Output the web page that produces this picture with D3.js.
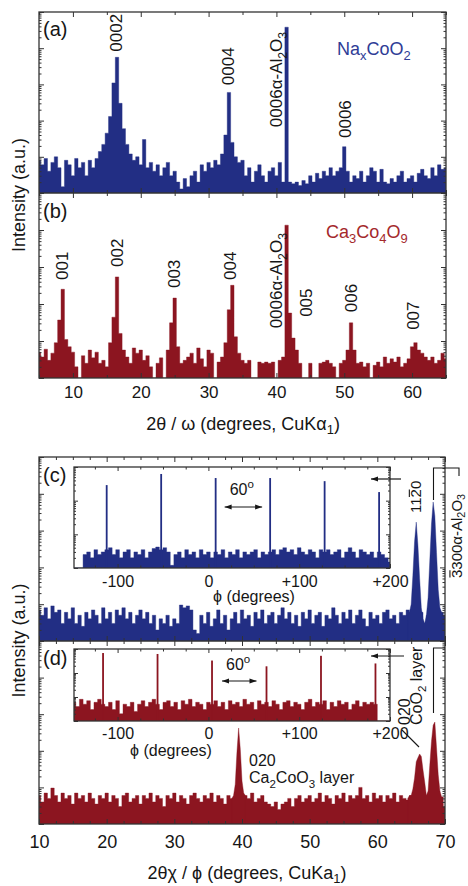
<!DOCTYPE html>
<html>
<head>
<meta charset="utf-8">
<script src="https://cdn.jsdelivr.net/npm/d3@7/dist/d3.min.js"></script>
<style>
  html, body { margin: 0; padding: 0; background: #fff; }
  svg { display: block; font-family: "Liberation Sans", Arial, Helvetica, sans-serif; }
</style>
</head>
<body>
<svg id="fig" width="468" height="886"></svg>
<script>
// ---------------- data ----------------
// Out-of-plane 2θ/ω scans, 5°–65°, sampled every 0.5°
const twoThetaOutStart = 5, twoThetaOutEnd = 65, twoThetaStep = 0.5;
const naxcoo2Counts = [
  8, 6, 9, 4, 7, 10, 5, 1.5, 8, 6,
  3, 9, 5, 7, 3, 8, 5, 9, 14, 22,
  45, 130, 1100, 5600, 300, 60, 22, 12, 8, 10,
  6, 30, 5, 7, 4, 6, 3, 5, 7, 3,
  4, 2, 1.3, 2.5, 1.5, 3, 4, 2, 6, 4,
  7, 5, 8, 6, 12, 40, 600, 25, 10, 7,
  8, 3, 5, 2, 4, 6, 3, 2, 4, 5,
  3, 7, 2, 38000, 2, 1.8, 2, 1.6, 2.2, 1.8,
  3, 2, 3.5, 2.5, 4, 3, 5, 3, 4, 5,
  19, 4, 2, 3, 2.5, 4, 2, 3, 5, 4,
  2, 4.5, 2, 1.8, 2.5, 2, 3, 4, 2, 2.5,
  3, 2, 3.5, 4.5, 3, 2.5, 5, 3, 6, 4.5,
  5
];
const ca3co4o9Counts = [
  5, 3.7, 6, 3, 4.7, 9, 37, 250, 11, 7,
  5, 2, 1, 4, 2.5, 5.7, 3.5, 5, 2.5, 3,
  2, 9, 44, 540, 16, 5.7, 3.7, 2.5, 6.5, 4.7,
  5.7, 3, 4, 2, 1, 2.5, 3.5, 1, 5.7, 31,
  145, 7, 2.5, 3, 3.7, 4.7, 2.5, 6.5, 3.3, 2,
  5.7, 4.7, 1, 2.7, 3.7, 9, 70, 320, 13, 4.7,
  3, 2.5, 3, 1, 1, 2.7, 2.5, 2.7, 2.5, 2.7,
  1, 3, 3.7, 13500, 57, 12, 5.7, 2.5, 1, 1,
  2.5, 1, 1, 2.5, 2.7, 3, 2.5, 2, 1, 2.5,
  3, 5.7, 31, 5.7, 2.5, 2.7, 2, 2.5, 1, 2.2,
  2.7, 2, 3.7, 2.5, 3.3, 2.7, 3.7, 2, 2.5, 3.3,
  7, 9, 5.7, 4.7, 3.7, 3, 3.7, 2.5, 3, 4.7,
  3.3
];

// In-plane 2θχ/φ scans, 10°–70°: background every 0.5°
const twoThetaInStart = 10, twoThetaInEnd = 70;
const naxcoo2InPlane = [
  7, 5, 8, 4, 9, 6, 7, 3, 6, 4,
  8, 3, 5, 2.5, 6, 4, 7, 5, 3, 8,
  4, 6, 3, 7, 5, 8, 4, 6, 3, 5,
  7, 4, 6, 3, 5, 2, 4, 3, 5, 2.5,
  4, 3, 9.5, 8, 9, 7, 2, 1.6, 5, 3,
  6, 2.5, 4, 7, 3, 5, 2, 4, 6, 3,
  7, 4, 5, 2.5, 6, 4, 7, 3, 5, 6,
  3, 5, 8, 4, 6, 3, 5, 2.5, 6, 4,
  7, 3, 5, 6, 2.5, 5, 4, 8, 5, 3,
  6, 4, 7, 3, 5, 7, 4, 2.5, 6, 4,
  5, 3, 6, 7, 4, 5, 3, 6, 5, 7,
  6, 5, 4, 6, 3, 5, 4, 6, 5, 6,
  5
];
const ca3co4o9InPlane = [
  6, 4, 7, 5, 9.6, 6, 4, 7, 5, 6,
  3.5, 7, 5, 6, 4, 7, 5, 3.5, 6, 5,
  7, 4, 6, 5, 3, 6, 7, 4, 5, 6,
  3.5, 6, 5, 7, 4, 6, 5, 3, 6, 5,
  7, 4, 6, 5, 3.5, 6, 7, 5, 4, 6,
  5, 7, 4, 6, 5, 3.5, 6, 5, 5, 6,
  5, 6, 5, 7, 4, 5, 6, 4, 3.5, 3,
  4, 2.5, 3.5, 4, 5, 3, 5, 6, 4, 5,
  6, 4, 5, 7, 4, 6, 5, 3.5, 6, 5,
  7, 4, 6, 5, 6, 10, 5, 6, 4, 7,
  5, 6, 4, 6, 5, 7, 4, 6, 5, 4.5,
  6, 5, 7, 4, 6, 5, 7, 4, 6, 5.5,
  3
];
// In-plane reflections, finer 0.25° sampling
const peakStepIn = 0.25;
const naxcoo2ReflStart = 64.5;   // 11-20 and 3-300 α-Al2O3
const naxcoo2Refl = [5, 6, 10, 60, 500, 1700, 400, 50, 8, 4, 3, 5, 15, 150, 1500, 6000, 2500, 250, 25, 8, 6];
const ca2coo3ReflStart = 38.5;   // 020 of the Ca2CoO3 layer
const ca2coo3Refl = [5, 6, 12, 90, 420, 110, 15, 7, 6];
const coo2ReflStart = 64.5;      // 020 of the CoO2 layer and 3-300 α-Al2O3
const coo2Refl = [5, 6, 6, 9, 18, 50, 65, 82, 70, 30, 14, 6, 8, 40, 180, 500, 610, 120, 22, 8, 5.5];

// φ scans, −148° to +200°, background every 4°, plus the six reflections
const phiStart = -148, phiEnd = 200, phiStep = 4;
const phiNoiseNa = [
  1, 1, 1, 2.5, 3, 2, 3.5, 2.5, 3, 3.5,
  4, 2.5, 3.5, 2, 3, 3.5, 2, 3, 2.5, 3.5,
  2, 3, 3.8, 4.2, 3.5, 4, 3, 1.2, 2.5, 3,
  2, 3.5, 2.5, 3, 2, 3.5, 2.5, 3, 2, 3,
  2.5, 3.5, 2, 3, 2.5, 3.5, 2, 3, 2.5, 3,
  3.5, 2, 3, 2.5, 3, 3.5, 2.5, 3.5, 4, 3,
  3.5, 2.5, 4, 3, 2.5, 3.5, 3, 2, 3.5, 3,
  3.5, 2.5, 3, 3.5, 2, 3, 4, 3, 2, 3.5,
  3, 2.5, 3, 2, 3, 2.5, 2, 1.5
];
const phiNoiseCa = [
  6, 4, 8, 5, 7, 3, 6, 8, 5, 4,
  6, 3, 7, 2, 5, 4, 6, 2.5, 5, 7,
  4, 6, 8, 5, 3, 6, 7, 4, 6, 3,
  7, 5, 8, 4, 6, 5, 3, 6, 5, 7,
  4, 6, 3, 7, 5, 6, 4, 8, 5, 6,
  3, 7, 5, 6, 4, 7, 5, 3, 6, 7,
  4, 6, 5, 3, 6, 8, 4, 6, 5, 7,
  3, 6, 4, 7, 5, 6, 3, 5, 7, 4,
  6, 5, 6, 5, 1, 1, 1, 1
];
const phiPeaksNa = [-112, -52, 8, 68, 128, 188];
const phiPeakCountsNa = [290, 620, 470, 470, 380, 180];
const phiPeaksCa = [-116, -56, 4, 64, 124, 184];
const phiPeakCountsCa = [680, 620, 330, 190, 520, 250];

const countDomainMain = [1, 1e5];
const countDomainPhi = [1, 1000];
const tickLabelsOut = [10, 20, 30, 40, 50, 60];
const tickLabelsIn = [10, 20, 30, 40, 50, 60, 70];
const tickLabelsPhi = [-100, 0, 100, 200];

// ---------------- styling / layout ----------------
const blue = "#222e84", blueText = "#2f3c96";
const red = "#8c1520", redText = "#a4292c";
const ink = "#161616", frameCol = "#333";

const svg = d3.select("#fig");
const defs = svg.append("defs");

const topFig = { left: 39, right: 446, top: 12, mid: 193, bottom: 378 };
const botFig = { left: 39, right: 445, top: 457, mid: 641, bottom: 824 };
const insetC = { left: 74, right: 390, top: 467, bottom: 568 };
const insetD = { left: 74, right: 390, top: 649, bottom: 721 };

const xOut = d3.scaleLinear().domain([twoThetaOutStart, twoThetaOutEnd]).range([topFig.left, topFig.right]);
const yA = d3.scaleLog().domain(countDomainMain).range([topFig.mid, topFig.top]);
const yB = d3.scaleLog().domain(countDomainMain).range([topFig.bottom, topFig.mid]);
const xIn = d3.scaleLinear().domain([twoThetaInStart, twoThetaInEnd]).range([botFig.left, botFig.right]);
const yC = d3.scaleLog().domain(countDomainMain).range([botFig.mid, botFig.top]);
const yD = d3.scaleLog().domain(countDomainMain).range([botFig.bottom, botFig.mid]);
const xPhiC = d3.scaleLinear().domain([phiStart, phiEnd]).range([insetC.left, insetC.right]);
const xPhiD = d3.scaleLinear().domain([phiStart, phiEnd]).range([insetD.left, insetD.right]);
const yPhiC = d3.scaleLog().domain(countDomainPhi).range([insetC.bottom, insetC.top]);
const yPhiD = d3.scaleLog().domain(countDomainPhi).range([insetD.bottom, insetD.top]);

let clipId = 0;
function clipped(x0, y0, x1, y1) {
  const id = "clip" + (clipId++);
  defs.append("clipPath").attr("id", id).append("rect")
    .attr("x", x0).attr("y", y0).attr("width", x1 - x0).attr("height", y1 - y0);
  return svg.append("g").attr("clip-path", `url(#${id})`);
}

// filled spectrum from the panel floor up to the counts
function spectrum(g, counts, start, step, x, y, color, curve) {
  const floor = y.range()[0], lo = y.domain()[0];
  const area = d3.area()
    .x((d, i) => x(start + i * step))
    .y0(floor)
    .y1(d => y(Math.max(d, lo)))
    .curve(curve);
  g.append("path").attr("d", area(counts))
    .attr("fill", color).attr("stroke", color)
    .attr("stroke-width", 0.4).attr("stroke-linejoin", "round");
}

function sharpLines(g, pos, counts, x, y, color) {
  g.selectAll(null).data(pos).join("rect")
    .attr("x", d => x(d) - 0.9).attr("width", 1.8)
    .attr("y", (d, i) => y(counts[i]))
    .attr("height", (d, i) => y.range()[0] - y(counts[i]))
    .attr("fill", color);
}

// rich text: "_c" subscript, "^c" superscript, "~c" with a bar over it
function rich(group, markup, size, color, anchor, subShift) {
  const sub = subShift == null ? 0.3 : subShift;
  const t = group.append("text").attr("font-size", size)
    .attr("fill", color || ink).attr("text-anchor", anchor || "start");
  const segs = [];
  for (let i = 0; i < markup.length; i++) {
    const c = markup[i];
    if ((c === "_" || c === "^" || c === "~") && i + 1 < markup.length) {
      segs.push({ s: markup[i + 1], k: c }); i++;
    } else {
      const last = segs[segs.length - 1];
      if (last && last.k === "") last.s += c; else segs.push({ s: c, k: "" });
    }
  }
  let shift = 0, charIndex = 0;
  const barred = [];
  segs.forEach(seg => {
    const target = seg.k === "_" ? size * sub : seg.k === "^" ? -size * 0.42 : 0;
    const ts = t.append("tspan").text(seg.s);
    if (target - shift !== 0) ts.attr("dy", target - shift);
    if (seg.k === "_" || seg.k === "^") ts.attr("font-size", size * 0.72);
    if (seg.k === "~") barred.push(charIndex);
    charIndex += seg.s.length;
    shift = target;
  });
  barred.forEach(idx => {
    const ext = t.node().getExtentOfChar(idx);
    const yBar = ext.y + ext.height * 0.12;
    group.append("line")
      .attr("x1", ext.x + 0.5).attr("x2", ext.x + ext.width - 0.5)
      .attr("y1", yBar).attr("y2", yBar)
      .attr("stroke", color || ink).attr("stroke-width", 1.1);
  });
  return t;
}
function htext(x, y, markup, size, color, anchor, subShift) {
  const g = svg.append("g").attr("transform", `translate(${x},${y})`);
  return rich(g, markup, size, color, anchor, subShift);
}
// vertical text reading bottom-to-top; cx = glyph centre line, yStart = lower end
function vtext(cx, yStart, markup, size, color, anchor, subShift) {
  const g = svg.append("g").attr("transform", `translate(${cx + 0.36 * size},${yStart}) rotate(-90)`);
  return rich(g, markup, size, color, anchor, subShift);
}

function range(a, b, s) { return d3.range(a, b + s / 2, s); }
function logTicks(y) {
  const [a, b] = y.domain(), major = [], minor = [];
  for (let e = Math.floor(Math.log10(a)); e <= Math.ceil(Math.log10(b)); e++) {
    for (let m = 1; m < 10; m++) {
      const v = m * Math.pow(10, e);
      if (v < a - 1e-9 || v > b + 1e-9) continue;
      (m === 1 ? major : minor).push(v);
    }
  }
  return { major, minor };
}
function stripDomain(g) { g.select(".domain").remove(); g.attr("color", frameCol); g.selectAll("line").attr("stroke-width", 1); }

function xTickRow(axisFn, x, yPos, values, size) {
  svg.append("g").attr("transform", `translate(0,${yPos})`)
    .call(axisFn(x).tickValues(values).tickSize(size).tickFormat(""))
    .call(stripDomain);
}
function yTickCols(y, xl, xr, big, small) {
  const t = logTicks(y);
  [[d3.axisLeft, xl], [d3.axisRight, xr]].forEach(([fn, xp]) => {
    svg.append("g").attr("transform", `translate(${xp},0)`)
      .call(fn(y).tickValues(t.major).tickSize(-big).tickFormat("")).call(stripDomain);
    svg.append("g").attr("transform", `translate(${xp},0)`)
      .call(fn(y).tickValues(t.minor).tickSize(-small).tickFormat("")).call(stripDomain);
  });
}
function frameRect(f, top, bottom, fill) {
  svg.append("rect").attr("x", f.left).attr("y", top)
    .attr("width", f.right - f.left).attr("height", bottom - top)
    .attr("fill", fill || "none").attr("stroke", frameCol).attr("stroke-width", 1.3);
}
function arrowHead(x, y, dir, len, half, color) {
  svg.append("path")
    .attr("d", `M${x},${y}L${x - dir * len},${y - half}L${x - dir * len},${y + half}Z`)
    .attr("fill", color || ink);
}
function hArrow(x1, x2, y, both) {
  // head at x1; optional second head at x2
  svg.append("line").attr("x1", x1).attr("x2", x2).attr("y1", y).attr("y2", y)
    .attr("stroke", ink).attr("stroke-width", 1.2);
  arrowHead(x1, y, x1 < x2 ? -1 : 1, 7, 2.6);
  if (both) arrowHead(x2, y, x2 > x1 ? 1 : -1, 7, 2.6);
}

// ---------------- upper figure: 2θ/ω ----------------
spectrum(clipped(topFig.left, topFig.top, topFig.right, topFig.mid), naxcoo2Counts,
  twoThetaOutStart, twoThetaStep, xOut, yA, blue, d3.curveStep);
spectrum(clipped(topFig.left, topFig.mid, topFig.right, topFig.bottom), ca3co4o9Counts,
  twoThetaOutStart, twoThetaStep, xOut, yB, red, d3.curveStep);

frameRect(topFig, topFig.top, topFig.bottom);
svg.append("line").attr("x1", topFig.left).attr("x2", topFig.right)
  .attr("y1", topFig.mid).attr("y2", topFig.mid).attr("stroke", frameCol).attr("stroke-width", 1.3);

const outMinor = range(5, 65, 5).filter(v => v % 10 !== 0);
[[d3.axisTop, topFig.top], [d3.axisBottom, topFig.mid], [d3.axisTop, topFig.mid], [d3.axisBottom, topFig.bottom]]
  .forEach(([fn, yp]) => {
    xTickRow(fn, xOut, yp, tickLabelsOut, -5);
    xTickRow(fn, xOut, yp, outMinor, -3);
  });
yTickCols(yA, topFig.left, topFig.right, 5, 2.5);
yTickCols(yB, topFig.left, topFig.right, 5, 2.5);

svg.append("g").attr("transform", `translate(0,${topFig.bottom})`)
  .call(d3.axisBottom(xOut).tickValues(tickLabelsOut).tickSize(0).tickPadding(8).tickFormat(d => d))
  .call(g => { g.select(".domain").remove(); g.selectAll("line").remove(); })
  .call(g => g.selectAll("text").attr("font-size", 17).attr("font-family", null).attr("fill", ink));

htext((topFig.left + topFig.right) / 2 + 0.5, 430, "2θ / ω (degrees, CuKα_1)", 18, ink, "middle", 0.22);
vtext(19, (topFig.top + topFig.bottom) / 2, "Intensity (a.u.)", 18, ink, "middle");

htext(43, 36, "(a)", 20);
htext(43, 218, "(b)", 20);
htext(337, 55, "Na_xCoO_2", 18, blueText);
htext(326, 238, "Ca_3Co_4O_9", 18, redText);

// reflection labels, anchored at (2θ, counts) of their lower end
[["0002", 16.35, 8000], ["0004", 32.9, 950], ["0006α-Al_2O_3", 39.95, 66], ["0006", 50.15, 33]]
  .forEach(([s, tt, c]) => vtext(xOut(tt), yA(c), s, 17));
[["001", 8.4, 445], ["002", 16.5, 1000], ["003", 24.9, 270], ["004", 33.2, 445],
 ["0006α-Al_2O_3", 39.95, 22], ["005", 44.4, 45], ["006", 51.0, 60], ["007", 60.15, 20]]
  .forEach(([s, tt, c]) => vtext(xOut(tt), yB(c), s, 17));

// ---------------- lower figure: 2θχ/φ ----------------
const gC = clipped(botFig.left, botFig.top, botFig.right, botFig.mid);
spectrum(gC, naxcoo2InPlane, twoThetaInStart, twoThetaStep, xIn, yC, blue, d3.curveStep);
spectrum(gC, naxcoo2Refl, naxcoo2ReflStart, peakStepIn, xIn, yC, blue, d3.curveLinear);
const gD = clipped(botFig.left, botFig.mid, botFig.right, botFig.bottom);
spectrum(gD, ca3co4o9InPlane, twoThetaInStart, twoThetaStep, xIn, yD, red, d3.curveStep);
spectrum(gD, ca2coo3Refl, ca2coo3ReflStart, peakStepIn, xIn, yD, red, d3.curveLinear);
spectrum(gD, coo2Refl, coo2ReflStart, peakStepIn, xIn, yD, red, d3.curveLinear);

frameRect(botFig, botFig.top, botFig.bottom);
svg.append("line").attr("x1", botFig.left).attr("x2", botFig.right)
  .attr("y1", botFig.mid).attr("y2", botFig.mid).attr("stroke", frameCol).attr("stroke-width", 1.3);

const inMinor = range(10, 70, 2.5).filter(v => v % 10 !== 0);
[[d3.axisTop, botFig.top], [d3.axisBottom, botFig.mid], [d3.axisTop, botFig.mid], [d3.axisBottom, botFig.bottom]]
  .forEach(([fn, yp]) => {
    xTickRow(fn, xIn, yp, tickLabelsIn, -5);
    xTickRow(fn, xIn, yp, inMinor, -3);
  });
yTickCols(yC, botFig.left, botFig.right, 5, 2.5);
yTickCols(yD, botFig.left, botFig.right, 5, 2.5);

svg.append("g").attr("transform", `translate(0,${botFig.bottom})`)
  .call(d3.axisBottom(xIn).tickValues(tickLabelsIn).tickSize(0).tickPadding(11).tickFormat(d => d))
  .call(g => { g.select(".domain").remove(); g.selectAll("line").remove(); })
  .call(g => g.selectAll("text").attr("font-size", 18).attr("font-family", null).attr("fill", ink));

htext(247, 879, "2θχ / ϕ (degrees, CuKa_1)", 18, ink, "middle", 0.22);
vtext(19, (botFig.top + botFig.bottom) / 2, "Intensity (a.u.)", 18, ink, "middle");

// φ-scan insets
function inset(box, xPhi, yPhi, noise, peaks, peakCounts, color, labelPad, titleX, titleY) {
  svg.append("rect").attr("x", box.left).attr("y", box.top)
    .attr("width", box.right - box.left).attr("height", box.bottom - box.top).attr("fill", "#fff");
  const g = clipped(box.left, box.top, box.right, box.bottom);
  spectrum(g, noise, phiStart, phiStep, xPhi, yPhi, color, d3.curveStep);
  sharpLines(g, peaks, peakCounts, xPhi, yPhi, color);
  frameRect(box, box.top, box.bottom);
  const phiMinor = range(-125, 200, 25).filter(v => v % 100 !== 0);
  xTickRow(d3.axisBottom, xPhi, box.bottom, tickLabelsPhi, -4);
  xTickRow(d3.axisBottom, xPhi, box.bottom, phiMinor, -2.5);
  xTickRow(d3.axisTop, xPhi, box.top, tickLabelsPhi, -4);
  xTickRow(d3.axisTop, xPhi, box.top, phiMinor, -2.5);
  yTickCols(yPhi, box.left, box.right, 4, 2);
  svg.append("g").attr("transform", `translate(0,${box.bottom})`)
    .call(d3.axisBottom(xPhi).tickValues(tickLabelsPhi).tickSize(0).tickPadding(labelPad)
      .tickFormat(d => d > 0 ? "+" + d : String(d)))
    .call(g2 => { g2.select(".domain").remove(); g2.selectAll("line").remove(); })
    .call(g2 => g2.selectAll("text").attr("font-size", 16).attr("font-family", null).attr("fill", ink));
  htext(titleX, titleY, "ϕ (degrees)", 16, ink, "middle");
}
inset(insetC, xPhiC, yPhiC, phiNoiseNa, phiPeaksNa, phiPeakCountsNa, blue, 7.6, 254, 602);
inset(insetD, xPhiD, yPhiD, phiNoiseCa, phiPeaksCa, phiPeakCountsCa, red, 6.6, 171, 756);

// 60° spacing markers between neighbouring φ reflections
htext(xPhiC(phiPeaksNa[2]) + 14, 495, "60^o", 16);
hArrow(xPhiC(phiPeaksNa[2]) + 9, xPhiC(phiPeaksNa[3]) - 8, 507, true);
htext(xPhiD(phiPeaksCa[2]) + 14, 670, "60^o", 16);
hArrow(xPhiD(phiPeaksCa[2]) + 10, xPhiD(phiPeaksCa[3]) - 10, 681, true);

// arrows tying each φ scan to its in-plane reflection
hArrow(371, 401, 479, false);
hArrow(371, 404, 656, false);

htext(43, 482, "(c)", 20);
htext(43, 665, "(d)", 20);

// (c) reflection labels
vtext(xIn(65.7), 513, "11~20", 15);
const brX = xIn(68.3);
svg.append("path").attr("d", `M${brX},500V468H459V476`)
  .attr("fill", "none").attr("stroke", ink).attr("stroke-width", 1.1);
vtext(456.5, 578, "~3300α-Al_2O_3", 15, ink, "start", 0.2);

// (d) reflection labels
vtext(404, 725, "020", 16);
vtext(416.5, 725, "CoO_2 layer", 16, ink, "start", 0.22);
svg.append("line").attr("x1", 402).attr("y1", 730).attr("x2", 419).attr("y2", 747)
  .attr("stroke", ink).attr("stroke-width", 1.1);
svg.append("path").attr("d", `M${brX},713V648H445`)
  .attr("fill", "none").attr("stroke", ink).attr("stroke-width", 1.1);
htext(249, 766, "020", 16);
htext(249, 783, "Ca_2CoO_3 layer", 16);
</script>
</body>
</html>
